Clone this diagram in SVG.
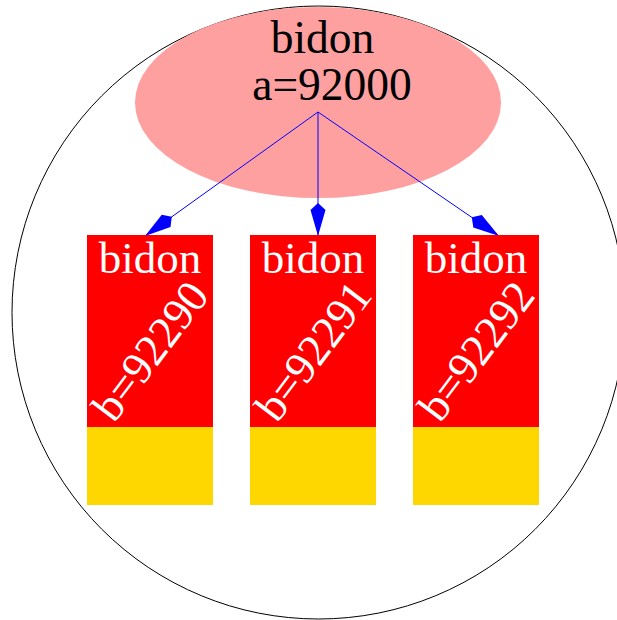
<svg xmlns="http://www.w3.org/2000/svg" width="617" height="620" viewBox="0 0 617 620">
<defs>
<style>
.t{font-family:"Liberation Serif","Times New Roman",serif;font-size:45px}
.big{font-size:45.5px}
.w{fill:#ffffff}
.k{fill:#000000}
.red{fill:#ff0000}
.yel{fill:#ffd700}
.edge{stroke:#0000ff;stroke-width:1;fill:none}
</style>
<marker id="kite" markerUnits="userSpaceOnUse" markerWidth="40" markerHeight="20" viewBox="0 -10 40 20" refX="33" refY="0" orient="auto">
<path d="M0,0 L7,-7.5 L33,0 L7,7.5 Z" fill="#0000ff"/>
</marker>
</defs>
<g id="container">
<circle cx="318.5" cy="312.5" r="306.5" fill="none" stroke="#000000" stroke-width="1"/>
</g>
<g id="root">
<ellipse cx="318" cy="102.5" rx="183" ry="95.5" fill="#ffa0a0"/>
<text class="t big k" x="322.5" y="53" text-anchor="middle">bidon</text>
<text class="t big k" x="332" y="100" text-anchor="middle">a=92000</text>
</g>
<g id="connectors">
<line class="edge" x1="318" y1="112" x2="145" y2="236" marker-end="url(#kite)"/>
<line class="edge" x1="318" y1="112" x2="318" y2="236" marker-end="url(#kite)"/>
<line class="edge" x1="318" y1="112" x2="499" y2="236" marker-end="url(#kite)"/>
</g>
<g id="node1">
<rect class="red" x="87" y="235" width="126" height="192"/>
<rect class="yel" x="87" y="427" width="126" height="78"/>
<text class="t w" x="150" y="273" text-anchor="middle">bidon</text>
<text class="t w" transform="translate(114,424) rotate(-53)">b=92290</text>
</g>
<g id="node2">
<rect class="red" x="250" y="235" width="126" height="192"/>
<rect class="yel" x="250" y="427" width="126" height="78"/>
<text class="t w" x="313" y="273" text-anchor="middle">bidon</text>
<text class="t w" transform="translate(277,424) rotate(-53)">b=92291</text>
</g>
<g id="node3">
<rect class="red" x="413" y="235" width="126" height="192"/>
<rect class="yel" x="413" y="427" width="126" height="78"/>
<text class="t w" x="476" y="273" text-anchor="middle">bidon</text>
<text class="t w" transform="translate(440,424) rotate(-53)">b=92292</text>
</g>
</svg>
